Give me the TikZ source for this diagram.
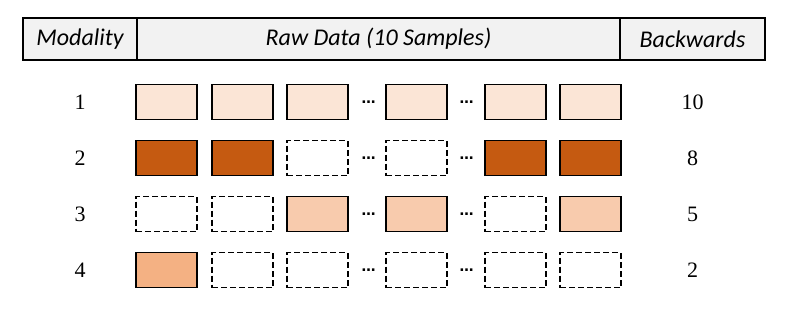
\documentclass[tikz,border=0pt]{standalone}
\usepackage{fontspec}
\setmainfont{Liberation Serif}
\newfontfamily\numfont{Liberation Serif}
\newfontfamily\hdrfont{Carlito}
\newfontfamily\dotfont{DejaVu Sans}
\definecolor{hdrgray}{HTML}{F2F2F2}
\definecolor{orA}{HTML}{FBE5D6}
\definecolor{orB}{HTML}{C55A11}
\definecolor{orC}{HTML}{F8CBAD}
\definecolor{orD}{HTML}{F4B183}
\begin{document}
\begin{tikzpicture}[x=1pt,y=-1pt,
  hdrcell/.style={draw=black, line width=2pt, fill=hdrgray, minimum height=42pt, inner sep=0pt, font=\hdrfont\itshape\fontsize{24}{24}\selectfont},
  full/.style={draw=black, line width=1.9pt, minimum width=61pt, minimum height=35pt, inner sep=0pt},
  empty/.style={draw=black, line width=1.9pt, dash pattern=on 6pt off 3pt, minimum width=61pt, minimum height=35pt, inner sep=0pt},
  numlbl/.style={font=\numfont\fontsize{22}{22}\selectfont, inner sep=0pt},
  dots/.style={font=\dotfont\bfseries\fontsize{14}{14}\selectfont, inner sep=0pt}]
\useasboundingbox (0,0) rectangle (793,317);
% header
\node[hdrcell, minimum width=114pt] (hmod) at (80,39) {Modality};
\node[hdrcell, minimum width=483pt] (hraw) at (378.5,39) {Raw Data (10 Samples)};
\node[hdrcell, minimum width=145pt] (hback) at (692.5,39) {Backwards};
% row 1
\node[numlbl] (m1) at (80,102) {1};
\node[full, fill=orA] (r1c1) at (166.5,102) {};
\node[full, fill=orA] (r1c2) at (242.5,102) {};
\node[full, fill=orA] (r1c3) at (317.5,102) {};
\node[dots] (r1d1) at (368.5,102) {…};
\node[full, fill=orA] (r1c4) at (416.5,102) {};
\node[dots] (r1d2) at (466.5,102) {…};
\node[full, fill=orA] (r1c5) at (515.5,102) {};
\node[full, fill=orA] (r1c6) at (590.5,102) {};
\node[numlbl] (b1) at (692.5,102) {10};
% row 2
\node[numlbl] (m2) at (80,158) {2};
\node[full, fill=orB] (r2c1) at (166.5,158) {};
\node[full, fill=orB] (r2c2) at (242.5,158) {};
\node[empty] (r2c3) at (317.5,158) {};
\node[dots] (r2d1) at (368.5,158) {…};
\node[empty] (r2c4) at (416.5,158) {};
\node[dots] (r2d2) at (466.5,158) {…};
\node[full, fill=orB] (r2c5) at (515.5,158) {};
\node[full, fill=orB] (r2c6) at (590.5,158) {};
\node[numlbl] (b2) at (692.5,158) {8};
% row 3
\node[numlbl] (m3) at (80,214) {3};
\node[empty] (r3c1) at (166.5,214) {};
\node[empty] (r3c2) at (242.5,214) {};
\node[full, fill=orC] (r3c3) at (317.5,214) {};
\node[dots] (r3d1) at (368.5,214) {…};
\node[full, fill=orC] (r3c4) at (416.5,214) {};
\node[dots] (r3d2) at (466.5,214) {…};
\node[empty] (r3c5) at (515.5,214) {};
\node[full, fill=orC] (r3c6) at (590.5,214) {};
\node[numlbl] (b3) at (692.5,214) {5};
% row 4
\node[numlbl] (m4) at (80,270) {4};
\node[full, fill=orD] (r4c1) at (166.5,270) {};
\node[empty] (r4c2) at (242.5,270) {};
\node[empty] (r4c3) at (317.5,270) {};
\node[dots] (r4d1) at (368.5,270) {…};
\node[empty] (r4c4) at (416.5,270) {};
\node[dots] (r4d2) at (466.5,270) {…};
\node[empty] (r4c5) at (515.5,270) {};
\node[empty] (r4c6) at (590.5,270) {};
\node[numlbl] (b4) at (692.5,270) {2};
\end{tikzpicture}
\end{document}
